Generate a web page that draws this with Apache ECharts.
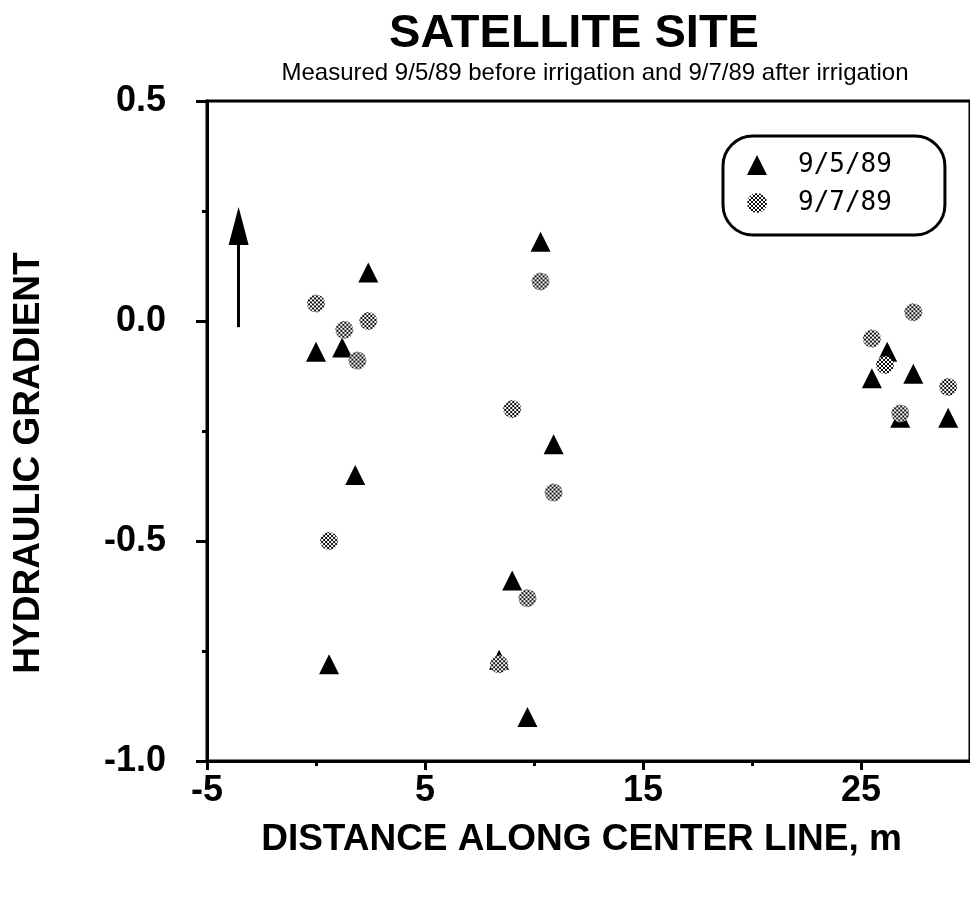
<!DOCTYPE html>
<html>
<head>
<meta charset="utf-8">
<script src="https://cdn.jsdelivr.net/npm/echarts@6/dist/echarts.min.js"></script>
<style>
  html, body { margin: 0; padding: 0; background: #fff; }
  #chart { width: 970px; height: 912px; }
</style>
</head>
<body>
<div id="chart"></div>
<script>
// Hydraulic gradient readings along the center line, before and after irrigation
const seriesNames = ['9/5/89', '9/7/89'];

// [distance m, gradient] measured 9/5/89 (before irrigation)
const beforeIrrigation = [
  [0.0, -0.07], [1.2, -0.06], [2.4, 0.11], [1.8, -0.35], [0.6, -0.78],
  [10.3, 0.18], [10.9, -0.28], [9.0, -0.59], [8.4, -0.77], [9.7, -0.90],
  [26.2, -0.07], [25.5, -0.13], [27.4, -0.12], [26.8, -0.22], [29.0, -0.22]
];

// [distance m, gradient] measured 9/7/89 (after irrigation)
const afterIrrigation = [
  [0.0, 0.04], [1.3, -0.02], [2.4, 0.0], [1.9, -0.09], [0.6, -0.50],
  [10.3, 0.09], [9.0, -0.20], [10.9, -0.39], [9.7, -0.63], [8.4, -0.78],
  [27.4, 0.02], [25.5, -0.04], [26.1, -0.10], [29.0, -0.15], [26.8, -0.21]
];

const xTickLabels = [-5, 5, 15, 25];
const xMinorTicks = [0, 10, 20];
const yTickLabels = [0.5, 0.0, -0.5, -1.0];
const yMinorTicks = [0.25, -0.25, -0.75];

// flow direction arrow: tail and head in data units
const flowArrow = [[-3.55, -0.014], [-3.55, 0.216]];

const titleText = 'SATELLITE SITE';
const subtitleText = 'Measured 9/5/89 before irrigation and 9/7/89 after irrigation';
const xName = 'DISTANCE ALONG CENTER LINE, m';
const yName = 'HYDRAULIC GRADIENT';

// halftone stipple used for the 9/7/89 markers
function stippleCanvas() {
  const c = document.createElement('canvas');
  c.width = 4; c.height = 4;
  const g = c.getContext('2d');
  g.fillStyle = '#ffffff';
  g.fillRect(0, 0, 4, 4);
  g.fillStyle = '#111111';
  g.fillRect(0, 0, 2, 2);
  g.fillRect(2, 2, 2, 2);
  return c;
}
const STIPPLE = stippleCanvas();
const DOT_SIZE = 18;
// scatter symbols are unit paths scaled by size/2, so the pattern is scaled back
const markerPattern = { image: STIPPLE, repeat: 'repeat', scaleX: 2 / DOT_SIZE, scaleY: 2 / DOT_SIZE };
const legendPattern = { image: STIPPLE, repeat: 'repeat' };

const FONT = '"Liberation Sans", Arial, Helvetica, sans-serif';
const boldLabel = { fontFamily: FONT, fontWeight: 'bold', color: '#000' };
const tickLine = { color: '#000', width: 3 };

const chart = echarts.init(document.getElementById('chart'), null, { renderer: 'canvas' });

chart.setOption({
  animation: false,
  backgroundColor: '#fff',
  graphic: [
    {
      type: 'text', x: 574, y: 34, silent: true,
      style: { text: titleText, fill: '#000', align: 'center', verticalAlign: 'middle',
               font: 'bold 47px ' + FONT }
    },
    {
      type: 'text', x: 595, y: 73, silent: true,
      style: { text: subtitleText, fill: '#000', align: 'center', verticalAlign: 'middle',
               font: '24px ' + FONT }
    }
  ],
  grid: {
    left: 207, top: 101, right: -9, bottom: 151,
    show: true, borderColor: '#000', borderWidth: 3, backgroundColor: 'transparent'
  },
  legend: {
    data: [
      { name: seriesNames[0], icon: 'triangle', itemStyle: { color: '#000' } },
      { name: seriesNames[1], icon: 'circle', itemStyle: { color: legendPattern } }
    ],
    orient: 'vertical',
    left: 723, top: 136,
    itemWidth: 20, itemHeight: 20, itemGap: 12,
    symbolKeepAspect: true,
    padding: [16, 53, 19, 24],
    borderColor: '#000', borderWidth: 3, borderRadius: 30,
    selectedMode: false,
    textStyle: {
      fontFamily: '"DejaVu Sans Mono", monospace', fontSize: 26, color: '#000',
      padding: [0, 0, 0, 26]
    }
  },
  xAxis: [
    {
      type: 'value', min: -5, max: 30, interval: 5,
      name: xName, nameLocation: 'middle', nameGap: 60,
      nameTextStyle: Object.assign({ fontSize: 37, padding: [0, 14, 0, 0] }, boldLabel),
      axisLine: { show: true, onZero: false, lineStyle: tickLine },
      axisTick: { show: true, customValues: xTickLabels, length: 9, lineStyle: tickLine },
      axisLabel: Object.assign({ customValues: xTickLabels, fontSize: 36, margin: 12 }, boldLabel),
      splitLine: { show: false }
    },
    {
      type: 'value', min: -5, max: 30, interval: 5, position: 'bottom',
      axisLine: { show: false, onZero: false },
      axisTick: { show: true, customValues: xMinorTicks, length: 5, lineStyle: tickLine },
      axisLabel: { show: false },
      splitLine: { show: false }
    }
  ],
  yAxis: [
    {
      type: 'value', min: -1, max: 0.5, interval: 0.25,
      name: yName, nameLocation: 'middle', nameGap: 160,
      nameTextStyle: Object.assign({ fontSize: 37, padding: [0, 64, 0, 0] }, boldLabel),
      axisLine: { show: true, onZero: false, lineStyle: tickLine },
      axisTick: { show: true, customValues: yTickLabels, length: 11, lineStyle: tickLine },
      axisLabel: Object.assign({
        customValues: yTickLabels, fontSize: 36, margin: 41, padding: [0, 0, 16, 0],
        formatter: v => v.toFixed(1)
      }, boldLabel),
      splitLine: { show: false }
    },
    {
      type: 'value', min: -1, max: 0.5, interval: 0.25, position: 'left',
      axisLine: { show: false, onZero: false },
      axisTick: { show: true, customValues: yMinorTicks, length: 5, lineStyle: tickLine },
      axisLabel: { show: false },
      splitLine: { show: false }
    }
  ],
  series: [
    {
      name: seriesNames[0],
      type: 'scatter',
      xAxisIndex: 0, yAxisIndex: 0,
      symbol: 'triangle', symbolSize: 20,
      itemStyle: { color: '#000', opacity: 1 },
      emphasis: { disabled: true },
      data: beforeIrrigation,
      markLine: {
        silent: true,
        symbol: ['none', 'triangle'],
        symbolSize: 20,
        lineStyle: { color: '#000', width: 3, type: 'solid' },
        label: { show: false },
        emphasis: { disabled: true },
        data: [[
          { coord: flowArrow[0], symbol: 'none' },
          { coord: flowArrow[1], symbol: 'triangle', symbolSize: [20, 38] }
        ]]
      }
    },
    {
      name: seriesNames[1],
      type: 'scatter',
      xAxisIndex: 0, yAxisIndex: 0,
      symbol: 'circle', symbolSize: DOT_SIZE,
      itemStyle: { color: markerPattern, opacity: 1 },
      emphasis: { disabled: true },
      data: afterIrrigation
    }
  ]
});
</script>
</body>
</html>
